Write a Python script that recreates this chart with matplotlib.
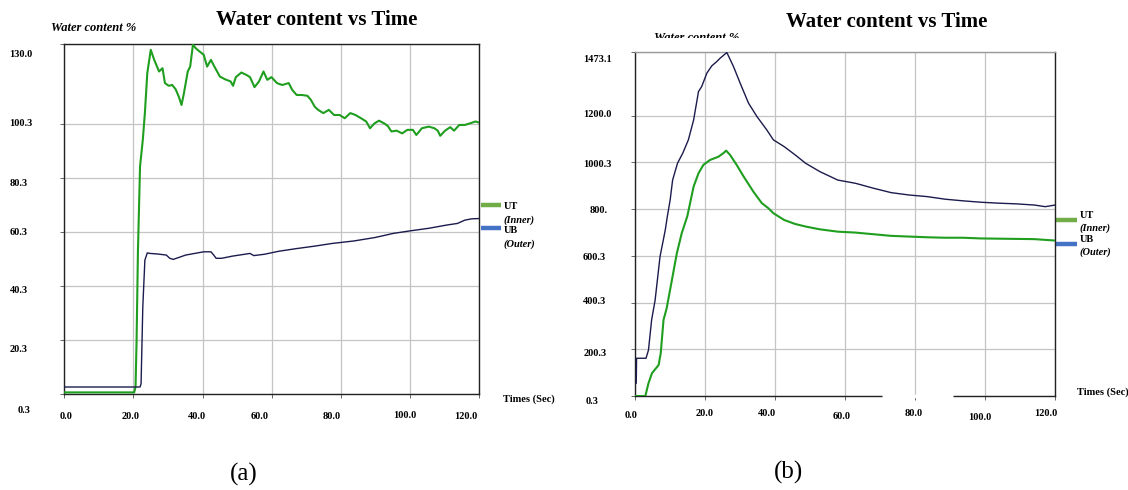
import matplotlib.pyplot as plt
from matplotlib.transforms import ScaledTranslation, Bbox, TransformedBbox

plt.rcParams['font.family'] = ['Liberation Serif', 'DejaVu Serif']

# ---- panel (a) ----
t_ut_a = [0, 20.2, 20.6, 20.9, 21.3, 21.9, 22.7, 23.3, 24.0, 25.0, 26.0, 27.4, 28.4, 29.1,
          30.2, 31.2, 32.2, 33.1, 33.9, 34.6, 35.7, 36.4, 37.2, 38.0, 39.1, 40.3, 41.3, 42.4,
          43.4, 45.0, 46.5, 48.1, 48.8, 49.6, 51.2, 52.7, 53.7, 55.0, 56.3, 57.6, 58.7, 59.9,
          61.5, 63.0, 64.9, 65.9, 67.2, 68.7, 70.3, 71.3, 72.4, 73.4, 74.9, 76.5, 78.0, 79.6,
          81.1, 82.7, 84.2, 85.8, 87.3, 88.4, 89.7, 91.0, 92.5, 93.5, 94.6, 96.1, 97.7, 99.2,
          100.8, 101.8, 103.4, 105.4, 107.0, 108.0, 108.7, 110.1, 111.6, 112.7, 114.2, 115.8,
          117.3, 118.9, 119.9]
ut_a = [1.0, 1.0, 3.0, 20.0, 53.6, 84.5, 94.4, 104.3, 119.1, 127.7, 124.0, 119.7, 120.9, 115.4,
        114.4, 114.7, 113.1, 110.4, 107.3, 111.7, 119.7, 121.5, 129.6, 128.3, 127.1, 125.9, 121.5, 124.0,
        121.5, 117.8, 116.8, 116.0, 114.4, 117.6, 119.3, 118.4, 117.6, 113.9, 116.0, 119.7, 116.6, 117.6,
        115.4, 114.7, 115.4, 112.9, 111.0, 111.0, 110.7, 109.2, 106.7, 105.5, 104.3, 105.5, 103.6, 103.6,
        102.4, 104.3, 103.6, 102.4, 101.2, 98.7, 100.5, 101.5, 100.5, 99.6, 97.5, 97.8, 96.8, 98.1,
        98.1, 96.2, 98.7, 99.3, 98.7, 97.8, 95.9, 97.8, 99.1, 97.8, 99.9, 99.9,
        100.5, 101.2, 100.8]

t_ub_a = [0, 21.9, 22.2, 22.7, 23.3, 24.0, 24.8, 26.9, 29.5, 30.5, 31.5, 33.1, 35.1, 37.7, 40.3,
          42.4, 43.2, 43.9, 45.5, 48.6, 52.7, 53.7, 54.8, 57.9, 62.0, 67.2, 72.4, 77.5, 83.7,
          89.9, 95.1, 100.3, 105.4, 110.6, 113.7, 115.8, 117.8, 119.9]
ub_a = [3.0, 3.0, 4.2, 32.6, 49.9, 52.6, 52.4, 52.2, 51.8, 50.6, 50.2, 50.9, 51.8, 52.4, 53.0,
        53.0, 51.8, 50.6, 50.6, 51.4, 52.2, 52.4, 51.6, 52.1, 53.2, 54.2, 55.1, 56.1, 57.0,
        58.3, 59.8, 60.8, 61.7, 62.9, 63.5, 64.7, 65.2, 65.3]

# ---- panel (b) ----
t_ub_b = [0, 0.3, 0.4, 3.1, 3.8, 4.7, 5.7, 7.1, 8.6, 9.2, 10.0, 10.7, 12.1, 13.6, 15.2, 16.7,
          18.1, 19.0, 20.5, 21.9, 23.3, 24.3, 26.2, 28.1, 30.0, 32.4, 34.8, 37.6, 39.5, 42.6,
          45.7, 48.7, 52.8, 57.9, 63.0, 68.1, 73.2, 78.3, 83.5, 88.6, 93.7, 98.8, 103.9, 109.0,
          114.1, 117.2, 120.0]
ub_b = [52, 55, 162, 162, 197, 326, 411, 597, 711, 770, 840, 925, 997, 1040, 1097, 1182,
        1304, 1325, 1383, 1414, 1432, 1447, 1471, 1411, 1340, 1254, 1197, 1140, 1097, 1068,
        1033, 997, 961, 925, 911, 890, 871, 861, 854, 843, 836, 830, 826, 823,
        818, 811, 818]

t_ut_b = [0, 2.9, 3.8, 4.8, 6.7, 7.3, 8.1, 9.0, 10.5, 11.9, 13.3, 14.9, 16.7, 18.1, 19.5, 21.4,
          23.8, 25.2, 26.0, 27.1, 29.0, 31.0, 33.8, 36.2, 38.1, 39.5, 42.6, 45.7, 48.7, 52.8,
          57.9, 63.0, 68.1, 73.2, 78.3, 83.5, 88.6, 93.7, 98.8, 103.9, 109.0, 114.1, 120.0]
ut_b = [0.3, 0.3, 55, 98, 133, 183, 326, 376, 497, 611, 697, 770, 897, 954, 990, 1011,
        1025, 1040, 1051, 1033, 990, 940, 875, 826, 804, 783, 754, 737, 726, 714,
        704, 700, 693, 686, 683, 680, 678, 678, 675, 674, 673, 672, 666]

xticks = [0, 20, 40, 60, 80, 100, 120]
xlabels = ['0.0', '20.0', '40.0', '60.0', '80.0', '100.0', '120.0']
yticks_a = [0.3, 20.3, 40.3, 60.3, 80.3, 100.3, 130.0]
ylabels_a = ['0.3', '20.3', '40.3', '60.3', '80.3', '100.3', '130.0']
yticks_b = [0.3, 200.3, 400.3, 600.3, 800.3, 1000.3, 1200.0, 1473.1]
ylabels_b = ['0.3', '200.3', '400.3', '600.3', '800.', '1000.3', '1200.0', '1473.1']

GREEN = '#1f9e1f'
NAVY = '#1b1b4d'

fig = plt.figure(figsize=(11.28, 4.9), dpi=100)
ax_a = fig.add_axes([0.0570, 0.1953, 0.3679, 0.7157])
ax_b = fig.add_axes([0.5631, 0.1918, 0.3722, 0.7020])


def shift(labels, offs):
    # nudge each tick label by (dx, dy) points, like the screenshot
    for lab, (dx, dy) in zip(labels, offs):
        lab.set_transform(lab.get_transform() +
                          ScaledTranslation(dx / 72, dy / 72, fig.dpi_scale_trans))


def style(ax, yticks, ylabels, ymax, xpad, ypad, xoffs, yoffs):
    ax.set_xlim(0, 120)
    ax.set_ylim(0.3, ymax)
    ax.set_xticks(xticks, xlabels)
    ax.set_yticks(yticks, ylabels)
    ax.grid(True, color='#c4c4c4', lw=0.9)
    ax.set_axisbelow(True)
    ax.tick_params(axis='both', length=3, width=0.7, color='#666666', labelsize=7.5)
    ax.tick_params(axis='x', pad=xpad)
    ax.tick_params(axis='y', pad=ypad)
    for lab in ax.get_xticklabels() + ax.get_yticklabels():
        lab.set_fontweight('bold')
    for lab in ax.get_yticklabels():
        lab.set_horizontalalignment('left')
    for s in ax.spines.values():
        s.set_color('#222222')
        s.set_linewidth(1.0)
    shift(ax.get_xticklabels(), xoffs)
    shift(ax.get_yticklabels(), yoffs)


style(ax_a, yticks_a, ylabels_a, 130.0, 9.5, 36.5,
      [(1.2, 0), (-2.0, 0), (-4.2, 0), (-9.0, 0), (-6.6, 0), (-3.6, 0.7), (-9.6, 0)],
      [(5.8, -11.3), (0, -6.0), (0, -2.4), (0, 0.7), (0, -3.2), (0, 0.9), (0, -7.0)])
style(ax_b, yticks_b, ylabels_b, 1473.1, 6.5, 34.3,
      [(-2.9, -1.2), (-0.7, 0), (-6.2, 0), (-2.2, -1.9), (-1.2, 0.5), (-3.6, -2.4), (-6.7, 0.5)],
      [(1.7, -2.9), (0, -2.2), (0, 1.2), (-0.8, -0.6), (4.3, 0), (0, -0.6), (0, 1.4), (0, -4.5)])
ax_b.spines['top'].set_color('#9a9a9a')
# the bottom axis line of (b) is broken between 70 and 90 s in the original
ax_b.hlines(0.3, 70.6, 90.9, colors='white', lw=2.5, zorder=3, clip_on=False)

ax_a.plot(t_ut_a, ut_a, color=GREEN, lw=1.5, zorder=4)
ax_a.plot(t_ub_a, ub_a, color=NAVY, lw=1.0, zorder=4)
ax_b.plot(t_ub_b, ub_b, color=NAVY, lw=1.0, zorder=4)
ax_b.plot(t_ut_b, ut_b, color=GREEN, lw=1.5, zorder=4)

# legends and axis captions
for ax, ys in [(ax_a, (0.540, 0.535, 0.497, 0.473, 0.466, 0.428)),
               (ax_b, (0.512, 0.526, 0.488, 0.443, 0.455, 0.417))]:
    x0 = 1.003
    ax.plot([x0, x0 + 0.05], [ys[0], ys[0]], color='#70ad47', lw=3.2,
            transform=ax.transAxes, clip_on=False, solid_capstyle='butt')
    ax.plot([x0, x0 + 0.05], [ys[3], ys[3]], color='#4472c4', lw=3.2,
            transform=ax.transAxes, clip_on=False, solid_capstyle='butt')
    ax.text(1.058, ys[1], 'UT', transform=ax.transAxes, fontsize=7.5,
            fontweight='bold', va='center', ha='left')
    ax.text(1.058, ys[2], '(Inner)', transform=ax.transAxes, fontsize=7.5,
            fontweight='bold', fontstyle='italic', va='center', ha='left')
    ax.text(1.058, ys[4], 'UB', transform=ax.transAxes, fontsize=7.5,
            fontweight='bold', va='center', ha='left')
    ax.text(1.058, ys[5], '(Outer)', transform=ax.transAxes, fontsize=7.5,
            fontweight='bold', fontstyle='italic', va='center', ha='left')

ax_a.text(1.057, -0.014, 'Times (Sec)', transform=ax_a.transAxes, fontsize=7.5,
          fontweight='bold', va='center', ha='left')
ax_b.text(1.052, 0.011, 'Times (Sec)', transform=ax_b.transAxes, fontsize=7.5,
          fontweight='bold', va='center', ha='left')

fig.text(0.281, 0.959, 'Water content vs Time', fontsize=15, fontweight='bold',
         ha='center', va='center')
fig.text(0.786, 0.956, 'Water content vs Time', fontsize=15, fontweight='bold',
         ha='center', va='center')
fig.text(0.0452, 0.9435, 'Water content %', fontsize=9, fontweight='bold',
         fontstyle='italic', ha='left', va='center')
wc_b = fig.text(0.5798, 0.922, 'Water content %', fontsize=9, fontweight='bold',
                fontstyle='italic', ha='left', va='center')
# in (b) the lower half of this label is cut off
wc_b.set_clip_box(TransformedBbox(Bbox([[0, 1 - 38 / 490], [1, 1]]), fig.transFigure))

fig.text(0.216, 0.031, '(a)', fontsize=18, ha='center', va='center')
fig.text(0.699, 0.035, '(b)', fontsize=18, ha='center', va='center')

fig.savefig('out.png', dpi=100)
